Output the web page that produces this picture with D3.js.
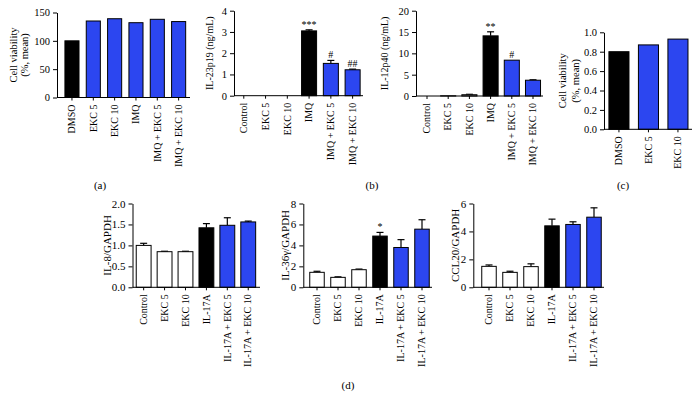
<!DOCTYPE html>
<html><head><meta charset="utf-8">
<script src="https://cdn.jsdelivr.net/npm/d3@7"></script>
<style>
body{margin:0;background:#fff}
svg{display:block}
text{font-family:"Liberation Serif","DejaVu Serif",serif;fill:#000}
</style>
</head><body><svg id="c" width="700" height="407"></svg>
<script>
// ---------- data ----------
const catsA = ["DMSO","EKC 5","EKC 10","IMQ","IMQ + EKC 5","IMQ + EKC 10"];
const viabA = [100,135,139,132,138,134];
const ticksA = [0,50,100,150];

const catsB = ["Control","EKC 5","EKC 10","IMQ","IMQ + EKC 5","IMQ + EKC 10"];
const il23 = [0,0,0,3.05,1.52,1.22];
const il23Err = [0,0,0,0.05,0.14,0.03];
const il23Sig = ["","","","***","#","##"];
const ticksIl23 = [0,1,2,3,4];

const il12 = [0,0.05,0.3,14.1,8.4,3.7];
const il12Err = [0,0,0.1,0.95,0,0.1];
const il12Sig = ["","","","**","#",""];
const ticksIl12 = [0,5,10,15,20];

const catsC = ["DMSO","EKC 5","EKC 10"];
const viabC = [0.80,0.87,0.93];
const ticksC = [0,0.2,0.4,0.6,0.8,1.0];

const catsD = ["Control","EKC 5","EKC 10","IL-17A","IL-17A + EKC 5","IL-17A + EKC 10"];
const il8 = [1.0,0.85,0.85,1.42,1.48,1.56];
const il8Err = [0.05,0.01,0.01,0.1,0.18,0.02];
const ticksIl8 = [0,0.5,1.0,1.5,2.0];

const il36 = [1.43,0.95,1.68,4.89,3.8,5.55];
const il36Err = [0.1,0.05,0.06,0.35,0.75,0.9];
const il36Sig = ["","","","*","",""];
const ticksIl36 = [0,2,4,6,8];

const ccl20 = [1.5,1.07,1.48,4.4,4.5,5.02];
const ccl20Err = [0.1,0.08,0.2,0.48,0.19,0.67];
const ticksCcl20 = [0,2,4,6];

// ---------- drawing ----------
const K = "#000", B = "#2c46f0", W = "#fff";
const fillsA = [K,B,B,B,B,B];
const fillsB = [W,W,W,K,B,B];
const fillsC = [K,B,B];
const svg = d3.select("#c");
const FONT = "Liberation Serif";

function panel(o){
  const g = svg.append("g");
  const x = d3.scaleBand().domain(o.cats).range(o.band).paddingInner(o.pad).paddingOuter(o.pad/2);
  const y = d3.scaleLinear().domain([0, d3.max(o.ticks)]).range([o.yb, o.yt]);
  const n = o.cats.length;
  const errs = o.errs || new Array(n).fill(0);
  const sigs = o.sigs || new Array(n).fill("");
  o.cats.forEach((c,i)=>{
    if(errs[i] > 0){
      const cx = x(c) + x.bandwidth()/2;
      g.append("line").attr("x1",cx).attr("x2",cx).attr("y1",y(o.vals[i])).attr("y2",y(o.vals[i]+errs[i])).attr("stroke",K).attr("stroke-width",1.2);
      g.append("line").attr("x1",cx-3.5).attr("x2",cx+3.5).attr("y1",y(o.vals[i]+errs[i])).attr("y2",y(o.vals[i]+errs[i])).attr("stroke",K).attr("stroke-width",1.2);
    }
  });
  g.selectAll("rect.bar").data(o.cats).join("rect").attr("class","bar")
    .attr("x",d=>x(d)).attr("width",x.bandwidth())
    .attr("y",(d,i)=>y(o.vals[i])).attr("height",(d,i)=>o.yb - y(o.vals[i]))
    .attr("fill",(d,i)=>o.fills[i]).attr("stroke",K).attr("stroke-width",1);
  o.cats.forEach((c,i)=>{
    if(sigs[i]){
      const cx = x(c) + x.bandwidth()/2;
      g.append("text").attr("x",cx).attr("y",y(o.vals[i]+errs[i])-2)
        .attr("text-anchor","middle").style("font-size","10px").text(sigs[i]);
    }
  });
  const ya = g.append("g").attr("transform",`translate(${o.x0},0)`)
    .call(d3.axisLeft(y).tickValues(o.ticks).tickFormat(o.fmt).tickSize(4).tickSizeOuter(0).tickPadding(3))
    .attr("font-family",FONT).attr("font-size",o.fs);
  ya.selectAll("path,line").attr("stroke",K);
  ya.selectAll("text").attr("fill",K);
  g.append("line").attr("x1",o.x0).attr("x2",o.xe).attr("y1",o.yb).attr("y2",o.yb).attr("stroke",K);
  const xa = g.append("g").attr("transform",`translate(0,${o.yb})`)
    .call(d3.axisBottom(x).tickSize(3).tickSizeOuter(0))
    .attr("font-family",FONT).attr("font-size",10);
  xa.select(".domain").remove();
  xa.selectAll("line").attr("stroke",K);
  xa.selectAll("text").attr("fill",K).attr("transform","rotate(-90)")
    .attr("text-anchor","end").attr("x",-7).attr("y",0).attr("dy","0.32em");
  const ym = (o.yb + o.yt)/2;
  o.ylab.forEach((t,j)=>{
    svg.append("text").attr("transform",`translate(${o.lx[j]},${ym}) rotate(-90)`)
      .attr("text-anchor","middle").attr("dy","0.35em").style("font-size",o.lfs+"px").text(t);
  });
}

panel({cats:catsA, vals:viabA, fills:fillsA, ticks:ticksA, fmt:d3.format("d"),
  band:[61.3,189.3], pad:0.34, x0:57, xe:190, yb:97.5, yt:12.5, fs:10.5,
  ylab:["Cell viability","(%, mean)"], lx:[13,24], lfs:10.5});

panel({cats:catsB, vals:il23, errs:il23Err, sigs:il23Sig, fills:fillsB, ticks:ticksIl23, fmt:d3.format("d"),
  band:[232.9,363.5], pad:0.31, x0:234, xe:363, yb:95.7, yt:10.7, fs:10.5,
  ylab:["IL-23p19 (ng/mL)"], lx:[209], lfs:10});

panel({cats:catsB, vals:il12, errs:il12Err, sigs:il12Sig, fills:fillsB, ticks:ticksIl12, fmt:d3.format("d"),
  band:[416.4,543.6], pad:0.29, x0:416, xe:543, yb:96, yt:10.7, fs:10.5,
  ylab:["IL-12p40 (ng/mL)"], lx:[384], lfs:10});

panel({cats:catsC, vals:viabC, fills:fillsC, ticks:ticksC, fmt:d3.format(".1f"),
  band:[604.2,692.7], pad:0.32, x0:604, xe:692, yb:129.3, yt:32.3, fs:10.5,
  ylab:["Cell viability","(%, mean)"], lx:[562,575], lfs:10.5});

panel({cats:catsD, vals:il8, errs:il8Err, fills:fillsB, ticks:ticksIl8, fmt:d3.format(".1f"),
  band:[133.2,258.7], pad:0.29, x0:132.5, xe:260, yb:287.3, yt:203.5, fs:11,
  ylab:["IL-8/GAPDH"], lx:[107], lfs:11});

panel({cats:catsD, vals:il36, errs:il36Err, sigs:il36Sig, fills:fillsB, ticks:ticksIl36, fmt:d3.format("d"),
  band:[306.5,432.5], pad:0.31, x0:303.3, xe:432, yb:287.3, yt:203.5, fs:11,
  ylab:["IL-36γ/GAPDH"], lx:[285], lfs:11});

panel({cats:catsD, vals:ccl20, errs:ccl20Err, fills:fillsB, ticks:ticksCcl20, fmt:d3.format("d"),
  band:[478.5,604.5], pad:0.31, x0:473.3, xe:604, yb:287.3, yt:203.5, fs:11,
  ylab:["CCL20/GAPDH"], lx:[455], lfs:11});

[["(a)",100,185],["(b)",372,185],["(c)",623,185],["(d)",348,385]].forEach(([t,px,py])=>{
  svg.append("text").attr("x",px).attr("y",py).attr("text-anchor","middle").attr("dy","0.35em")
    .style("font-size","11px").text(t);
});
</script>
</body></html>
